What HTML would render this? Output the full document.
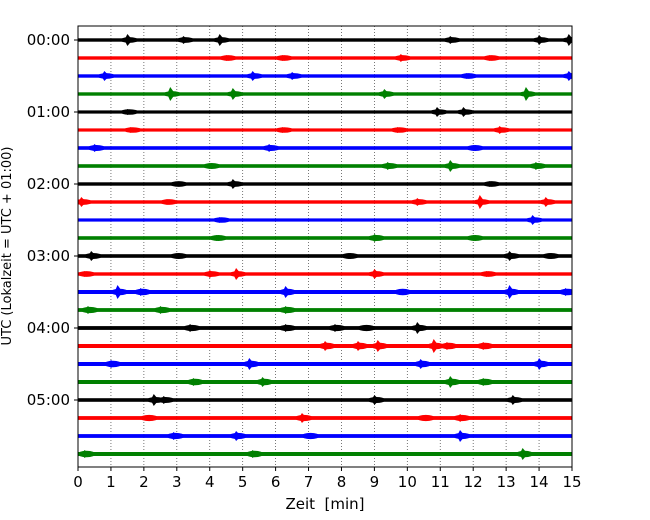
<!DOCTYPE html>
<html><head><meta charset="utf-8"><style>
body{margin:0;background:#fff}
svg{display:block;font-family:"DejaVu Sans","Liberation Sans",sans-serif}
</style></head><body>
<svg id="chart" width="650" height="520" viewBox="0 0 650 520">
<defs><clipPath id="pc"><rect x="78" y="26" width="494" height="441"/></clipPath></defs>
<rect x="0" y="0" width="650" height="520" fill="#fff"/>
<g id="grid"></g><g id="traces" clip-path="url(#pc)"></g><g id="axes"></g>
</svg>
<script>
const xTicks=[0,1,2,3,4,5,6,7,8,9,10,11,12,13,14,15];
const hourLabels=["00:00","01:00","02:00","03:00","04:00","05:00"];
const traceColors=["#000000","#ff0000","#0000ff","#008000"];
const noiseAmp=[1.7,1.7,1.7,1.7,1.6,1.6,1.8,1.8,1.7,1.7,1.6,1.8,1.8,1.7,2.0,1.9,1.9,2.0,2.0,2.0,1.8,1.9,1.9,2.0];
const ev0=[[1.5,6],[3.2,4],[4.3,6],[11.3,4],[14.0,5],[14.9,6]];
const ev1=[[4.5,3],[6.2,3],[9.8,4],[12.5,3]];
const ev2=[[0.8,5],[5.3,5],[6.5,4],[11.8,3],[14.9,5]];
const ev3=[[2.8,7],[4.7,6],[9.3,5],[13.6,7]];
const ev4=[[1.5,3],[10.9,5],[11.7,5]];
const ev5=[[1.6,3],[6.2,3],[9.7,3],[12.8,4]];
const ev6=[[0.5,4],[5.8,4],[12.0,3]];
const ev7=[[4.0,3],[9.4,4],[11.3,6],[13.9,4]];
const ev8=[[3.0,2],[4.7,5],[12.5,3]];
const ev9=[[0.1,5],[2.7,3],[10.3,4],[12.2,7],[14.2,5]];
const ev10=[[4.3,3],[13.8,5]];
const ev11=[[4.2,3],[9.0,4],[12.0,3]];
const ev12=[[0.4,5],[3.0,3],[8.2,3],[13.1,5],[14.3,3]];
const ev13=[[0.2,3],[4.0,4],[4.8,6],[9.0,5],[12.4,3]];
const ev14=[[1.2,7],[1.9,4],[6.3,6],[9.8,3],[13.1,7],[14.8,4]];
const ev15=[[0.3,4],[2.5,4],[6.3,4]];
const ev16=[[3.4,4],[6.3,4],[7.8,4],[8.7,3],[10.3,6]];
const ev17=[[7.5,5],[8.5,5],[9.1,6],[10.8,7],[11.2,4],[12.3,4]];
const ev18=[[1.0,4],[5.2,6],[10.4,5],[14.0,6]];
const ev19=[[3.5,4],[5.6,5],[11.3,6],[12.3,4]];
const ev20=[[2.3,6],[2.6,4],[9.0,5],[13.2,5]];
const ev21=[[2.1,3],[6.8,5],[10.5,3],[11.6,4]];
const ev22=[[2.9,4],[4.8,5],[7.0,3],[11.6,6]];
const ev23=[[0.2,4],[5.3,4],[13.5,6]];
const events=[ev0,ev1,ev2,ev3,ev4,ev5,ev6,ev7,ev8,ev9,ev10,ev11,ev12,ev13,ev14,ev15,ev16,ev17,ev18,ev19,ev20,ev21,ev22,ev23];

const NS="http://www.w3.org/2000/svg";
const L=78,R=572,T=26,B=467;
const xS=m=>L+(m/15)*(R-L);
const yS=i=>40+i*18;
function mk(tag,attrs,parent){const e=document.createElementNS(NS,tag);for(const k in attrs)e.setAttribute(k,attrs[k]);parent.appendChild(e);return e;}
const grid=document.getElementById('grid'),tr=document.getElementById('traces'),ax=document.getElementById('axes');
xTicks.forEach(t=>{
  if(t>0&&t<15){const g=mk('line',{x1:xS(t),x2:xS(t),y1:T,y2:B,stroke:'#555','stroke-width':0.8,'stroke-dasharray':'1,2'},grid);
  
  }
});
events.forEach((ev,i)=>{
  const y=yS(i),c=traceColors[i%4];
  const g=mk('g',{},tr);
  
  
  mk('rect',{x:L,y:y-noiseAmp[i],width:R-L,height:noiseAmp[i]*2,fill:c},g);
  ev.forEach(([m,a])=>{
    const x=xS(m);
    const p=mk('polygon',{points:`${x-3},${y} ${x},${y-a} ${x+5},${y} ${x},${y+a}`,fill:c},g);
    
    
    mk('ellipse',{cx:x+2,cy:y,rx:9,ry:noiseAmp[i]+1.2,fill:c},g);
  });
});
const frame=mk('rect',{x:L,y:T,width:R-L,height:B-T,fill:'none',stroke:'#000','stroke-width':1},ax);


xTicks.forEach(t=>{
  mk('line',{x1:xS(t),x2:xS(t),y1:B,y2:B+4,stroke:'#000'},ax);
  const tx=mk('text',{x:xS(t),y:B+20,'font-size':15,'text-anchor':'middle'},ax);
  tx.textContent=t;
  
  
});
hourLabels.forEach((h,k)=>{
  const y=yS(k*4);
  mk('line',{x1:L-4,x2:L,y1:y,y2:y,stroke:'#000'},ax);
  const tx=mk('text',{x:L-8,y:y+5,'font-size':15,'text-anchor':'end'},ax);
  tx.textContent=h;
  
  
});
const xl=mk('text',{x:325,y:509,'font-size':15,'text-anchor':'middle'},ax);
xl.textContent='Zeit\u00a0\u00a0[min]';


const yl=mk('text',{x:0,y:0,'font-size':13,'text-anchor':'middle',transform:'translate(11,246) rotate(-90)'},ax);
yl.textContent='UTC (Lokalzeit = UTC + 01:00)';


</script>
</body></html>
